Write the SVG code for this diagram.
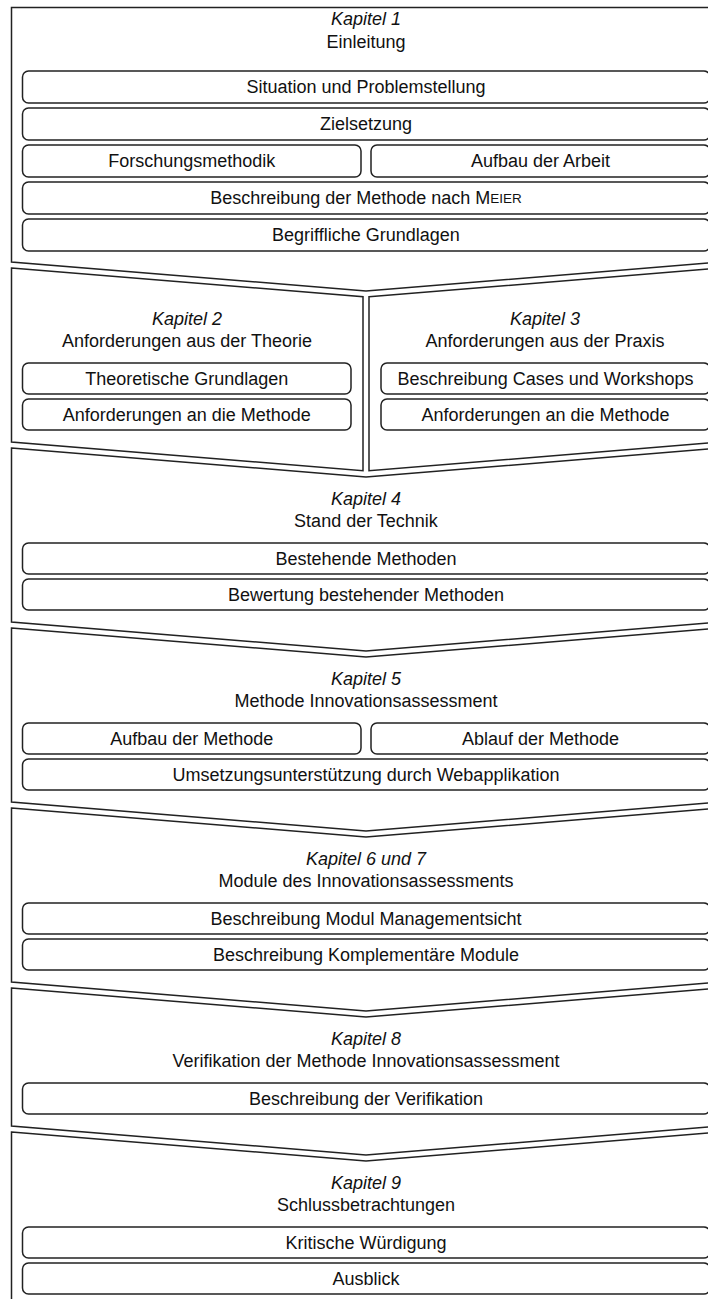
<svg xmlns="http://www.w3.org/2000/svg" width="708" height="1299" viewBox="0 0 708 1299">
<style>
.frame{fill:#fff;stroke:#222;stroke-width:1.5;stroke-linejoin:miter}
.box{fill:#fff;stroke:#222;stroke-width:1.5}
.t{font-family:"Liberation Sans",Arial,sans-serif;font-size:18px;text-anchor:middle;fill:#111;dominant-baseline:central}
.k{font-style:italic}
</style>
<rect width="708" height="1299" fill="#fff"/>
<g id="kapitel1">
<path class="frame" d="M11.5,7.5 H721 V262 L366,291 L11.5,262 Z"/>
<text class="t k" x="366" y="19">Kapitel 1</text>
<text class="t" x="366" y="42">Einleitung</text>
<rect class="box" x="22.5" y="71" width="687.5" height="32" rx="6"/>
<text class="t" x="366" y="87">Situation und Problemstellung</text>
<rect class="box" x="22.5" y="108" width="687.5" height="32" rx="6"/>
<text class="t" x="366" y="124">Zielsetzung</text>
<rect class="box" x="22.5" y="145" width="338.5" height="32" rx="6"/>
<text class="t" x="191.75" y="161">Forschungsmethodik</text>
<rect class="box" x="371" y="145" width="339" height="32" rx="6"/>
<text class="t" x="540.5" y="161">Aufbau der Arbeit</text>
<rect class="box" x="22.5" y="182" width="687.5" height="32" rx="6"/>
<text class="t" x="366" y="198">Beschreibung der Methode nach M<tspan font-size="13.5">EIER</tspan></text>
<rect class="box" x="22.5" y="219" width="687.5" height="32" rx="6"/>
<text class="t" x="366" y="235">Begriffliche Grundlagen</text>
</g>
<g id="kapitel2">
<path class="frame" d="M11.5,268 L363,296.8 V470.8 L11.5,442 Z"/>
<text class="t k" x="187" y="319">Kapitel 2</text>
<text class="t" x="187" y="341">Anforderungen aus der Theorie</text>
<rect class="box" x="22.5" y="363" width="328.5" height="31" rx="6"/>
<text class="t" x="186.75" y="378.5">Theoretische Grundlagen</text>
<rect class="box" x="22.5" y="399" width="328.5" height="31" rx="6"/>
<text class="t" x="186.75" y="414.5">Anforderungen an die Methode</text>
</g>
<g id="kapitel3">
<path class="frame" d="M369,296.8 L721,268 V442 L369,470.8 Z"/>
<text class="t k" x="545" y="319">Kapitel 3</text>
<text class="t" x="545" y="341">Anforderungen aus der Praxis</text>
<rect class="box" x="381" y="363" width="329" height="31" rx="6"/>
<text class="t" x="545.5" y="378.5">Beschreibung Cases und Workshops</text>
<rect class="box" x="381" y="399" width="329" height="31" rx="6"/>
<text class="t" x="545.5" y="414.5">Anforderungen an die Methode</text>
</g>
<g id="kapitel4">
<path class="frame" d="M11.5,448 L366,477 L721,448 V622 L366,651 L11.5,622 Z"/>
<text class="t k" x="366" y="499">Kapitel 4</text>
<text class="t" x="366" y="521">Stand der Technik</text>
<rect class="box" x="22.5" y="543" width="687.5" height="31" rx="6"/>
<text class="t" x="366" y="558.5">Bestehende Methoden</text>
<rect class="box" x="22.5" y="579" width="687.5" height="31" rx="6"/>
<text class="t" x="366" y="594.5">Bewertung bestehender Methoden</text>
</g>
<g id="kapitel5">
<path class="frame" d="M11.5,628 L366,657 L721,628 V802 L366,831 L11.5,802 Z"/>
<text class="t k" x="366" y="679">Kapitel 5</text>
<text class="t" x="366" y="701">Methode Innovationsassessment</text>
<rect class="box" x="22.5" y="723" width="338.5" height="31" rx="6"/>
<text class="t" x="191.75" y="738.5">Aufbau der Methode</text>
<rect class="box" x="371" y="723" width="339" height="31" rx="6"/>
<text class="t" x="540.5" y="738.5">Ablauf der Methode</text>
<rect class="box" x="22.5" y="759" width="687.5" height="31" rx="6"/>
<text class="t" x="366" y="774.5">Umsetzungsunterstützung durch Webapplikation</text>
</g>
<g id="kapitel6">
<path class="frame" d="M11.5,808 L366,837 L721,808 V982 L366,1011 L11.5,982 Z"/>
<text class="t k" x="366" y="859">Kapitel 6 und 7</text>
<text class="t" x="366" y="881">Module des Innovationsassessments</text>
<rect class="box" x="22.5" y="903" width="687.5" height="31" rx="6"/>
<text class="t" x="366" y="918.5">Beschreibung Modul Managementsicht</text>
<rect class="box" x="22.5" y="939" width="687.5" height="31" rx="6"/>
<text class="t" x="366" y="954.5">Beschreibung Komplementäre Module</text>
</g>
<g id="kapitel8">
<path class="frame" d="M11.5,988 L366,1017 L721,988 V1126 L366,1155 L11.5,1126 Z"/>
<text class="t k" x="366" y="1039">Kapitel 8</text>
<text class="t" x="366" y="1061">Verifikation der Methode Innovationsassessment</text>
<rect class="box" x="22.5" y="1083" width="687.5" height="31" rx="6"/>
<text class="t" x="366" y="1098.5">Beschreibung der Verifikation</text>
</g>
<g id="kapitel9">
<path class="frame" d="M11.5,1132 L366,1161 L721,1132 V1310 H11.5 Z"/>
<text class="t k" x="366" y="1183">Kapitel 9</text>
<text class="t" x="366" y="1205">Schlussbetrachtungen</text>
<rect class="box" x="22.5" y="1227" width="687.5" height="31" rx="6"/>
<text class="t" x="366" y="1242.5">Kritische Würdigung</text>
<rect class="box" x="22.5" y="1263" width="687.5" height="31" rx="6"/>
<text class="t" x="366" y="1278.5">Ausblick</text>
</g>
<g id="connectors"></g>
</svg>
